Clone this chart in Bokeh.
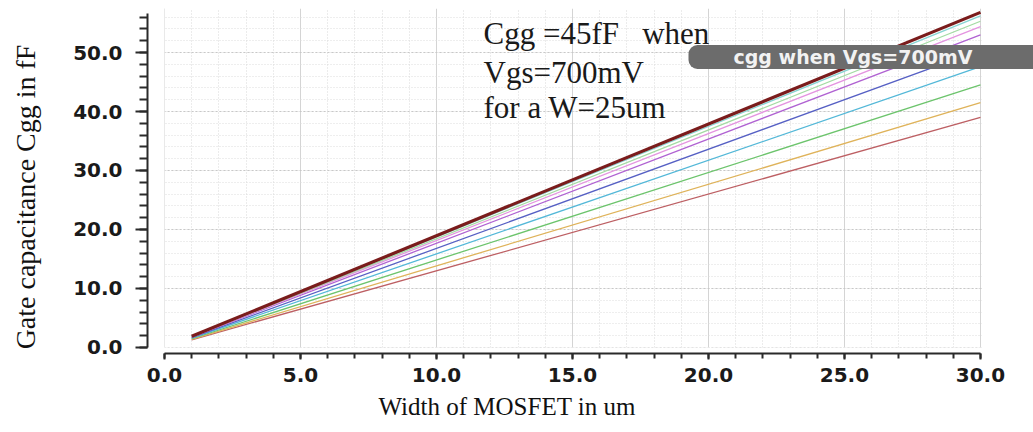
from bokeh.plotting import figure
from bokeh.layouts import row
from bokeh.models import (Range1d, PrintfTickFormatter, SingleIntervalTicker,
                          Label, BoxAnnotation, Title)
from bokeh.embed import file_html
from bokeh.resources import INLINE

# Gate width sweep (um): each curve is straight, so its two ends are enough
width_um = [1.0, 30.0]

# Cgg (fF) at the two ends of each Vgs curve, lowest curve first
cgg_series = [
    [1.30, 39.0],
    [1.38, 41.5],
    [1.48, 44.5],
    [1.59, 47.6],
    [1.68, 50.4],
    [1.77, 53.0],
    [1.81, 54.4],
    [1.84, 55.3],
    [1.87, 56.2],
    [1.90, 56.8],
]
series_colors = ["#bd5f63", "#dfb35a", "#6cc46c", "#53b8d8", "#5660c4",
                 "#b062d2", "#e494e0", "#a3dba3", "#86d4d2", "#7a1c1c"]
series_widths = [1.3, 1.3, 1.3, 1.3, 1.3, 1.3, 1.3, 1.3, 1.3, 3.2]

x_ticks_major = 5
y_ticks_major = 10

TITLE_STRIP = 60          # narrow strip on the left that holds the y title

p = figure(width=1033 - TITLE_STRIP, height=432, output_backend="svg",
           toolbar_location=None,
           x_range=Range1d(-0.625, 31.95), y_range=Range1d(-1.02, 57.46),
           min_border_left=147 - TITLE_STRIP, min_border_right=0,
           min_border_top=8, min_border_bottom=79)
p.outline_line_color = None
p.background_fill_color = "white"

# grid: solid major / dotted minor verticals, dotted horizontals
p.xaxis.ticker = SingleIntervalTicker(interval=x_ticks_major, num_minor_ticks=5)
p.yaxis.ticker = SingleIntervalTicker(interval=y_ticks_major, num_minor_ticks=5)
p.xgrid.ticker = p.xaxis.ticker
p.ygrid.ticker = p.yaxis.ticker
p.xgrid.bounds = (-0.1, 30.05)
p.ygrid.bounds = (-0.1, 57.3)
p.xgrid.grid_line_color = "#d4d4d4"
p.xgrid.grid_line_width = 1
p.xgrid.minor_grid_line_color = "#d8d8d8"
p.xgrid.minor_grid_line_dash = "1 2"
p.ygrid.grid_line_color = "#c8c8c8"
p.ygrid.grid_line_dash = "2 2"
p.ygrid.minor_grid_line_color = "#dcdcdc"
p.ygrid.minor_grid_line_dash = "1 2"

# keep the grid inside the 0..30 x 0..57 region
for box in (dict(right=0), dict(top=0), dict(left=30.05)):
    p.add_layout(BoxAnnotation(fill_color="white", fill_alpha=1,
                               line_alpha=0, level="underlay", **box))

for ys, c, w in zip(cgg_series, series_colors, series_widths):
    p.line(width_um, ys, line_color=c, line_width=w)

# axes
for ax in (p.xaxis, p.yaxis):
    ax.formatter = PrintfTickFormatter(format="%.1f")
    ax.axis_line_color = "#2a2a2a"
    ax.axis_line_width = 2
    ax.major_tick_line_color = "#2a2a2a"
    ax.minor_tick_line_color = "#2a2a2a"
    ax.major_tick_line_width = 2
    ax.minor_tick_line_width = 2
    ax.major_tick_in = 0
    ax.minor_tick_in = 0
    ax.major_label_text_font = "DejaVu Sans"
    ax.major_label_text_font_style = "bold"
    ax.major_label_text_font_size = "20px"
    ax.major_label_text_color = "#1a1a1a"

p.xaxis.bounds = (0, 30)
p.xaxis.major_tick_out = 6
p.xaxis.minor_tick_out = 5
p.xaxis.major_label_standoff = 8

p.yaxis.bounds = (0, 56.6)
p.yaxis.major_tick_out = 12
p.yaxis.minor_tick_out = 8
p.yaxis.major_label_standoff = 13

# x title
p.add_layout(Title(text="Width of MOSFET in um", align="left", offset=231,
                   standoff=12, text_font="Liberation Serif",
                   text_font_style="normal", text_font_size="25px",
                   text_color="#111111"), "below")

# note on the operating point
note_lines = ["Cgg =45fF\u00a0\u00a0\u00a0when", "Vgs=700mV", "for a W=25um"]
for txt, yb in zip(note_lines, [320, 281, 246]):
    p.add_layout(Label(x=336, y=yb, x_units="screen", y_units="screen",
                       text=txt, text_font="Liberation Serif",
                       text_font_size="31px", text_color="#1a1a1a",
                       text_align="left", text_baseline="alphabetic"))

# marker tag
p.add_layout(Label(x=541, y=296.5, x_units="screen", y_units="screen",
                   text="cgg when Vgs=700mV", text_font="DejaVu Sans",
                   text_font_style="bold", text_font_size="19px",
                   text_color="#f2f2f2", text_align="left",
                   text_baseline="middle",
                   background_fill_color="#6c6c6c", background_fill_alpha=1,
                   padding=dict(left=45, right=120, top=1, bottom=1),
                   border_radius=9))

# y title, in its own strip so it can sit where it belongs
strip = figure(width=TITLE_STRIP, height=432, output_backend="svg",
               toolbar_location=None, x_range=Range1d(0, TITLE_STRIP),
               y_range=Range1d(0, 432), min_border=0)
strip.axis.visible = False
strip.grid.visible = False
strip.outline_line_color = None
strip.add_layout(Label(x=25, y=196, angle=1.5707963,
                       text="Gate capacitance Cgg in fF",
                       text_font="Liberation Serif", text_font_size="28px",
                       text_color="#111111", text_align="center",
                       text_baseline="middle"))

layout = row(strip, p, spacing=0)
open("out.html", "w").write(file_html(layout, INLINE))
